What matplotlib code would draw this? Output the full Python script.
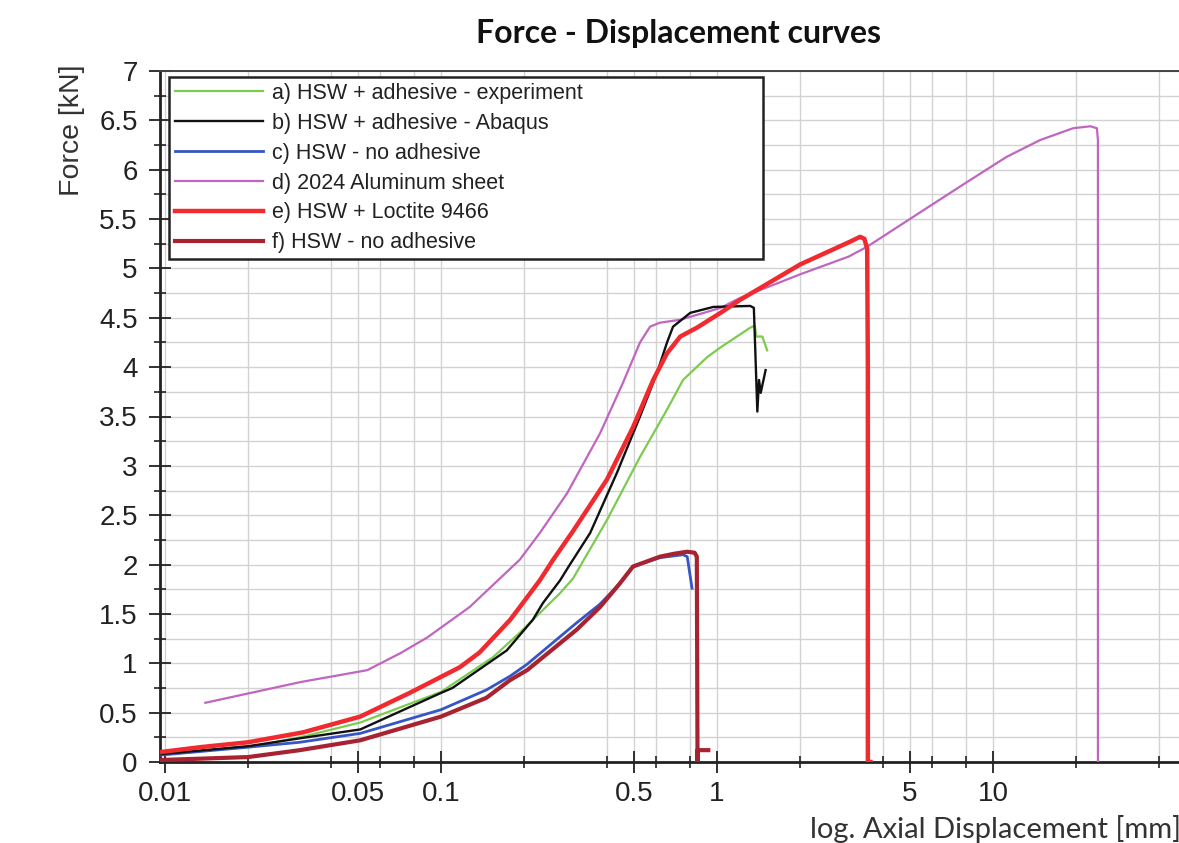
import numpy as np
import matplotlib
matplotlib.use("Agg")
import matplotlib.pyplot as plt
from matplotlib.ticker import FixedLocator, FixedFormatter, MultipleLocator, FormatStrFormatter

# a) HSW + adhesive - experiment
x_exp = [0.0096, 0.022, 0.0308, 0.051, 0.1, 0.154, 0.193, 0.27, 0.301, 0.399, 0.526,
         0.659, 0.753, 0.92, 1.03, 1.32, 1.37, 1.39, 1.46, 1.52]
y_exp = [0.07, 0.17, 0.25, 0.40, 0.71, 1.06, 1.31, 1.71, 1.86, 2.45, 3.09,
         3.57, 3.87, 4.10, 4.20, 4.40, 4.42, 4.31, 4.31, 4.17]

# b) HSW + adhesive - Abaqus
x_abq = [0.0096, 0.02, 0.0308, 0.051, 0.1, 0.11, 0.173, 0.215, 0.234, 0.27, 0.29,
         0.347, 0.434, 0.526, 0.606, 0.659, 0.693, 0.80, 0.97, 1.32, 1.36, 1.40,
         1.42, 1.44, 1.50]
y_abq = [0.08, 0.16, 0.24, 0.33, 0.70, 0.75, 1.13, 1.44, 1.61, 1.84, 1.98,
         2.32, 2.93, 3.50, 3.94, 4.25, 4.41, 4.55, 4.61, 4.62, 4.60, 3.55,
         3.87, 3.74, 3.97]

# c) HSW - no adhesive
x_noad = [0.0096, 0.02, 0.0308, 0.051, 0.1, 0.146, 0.178, 0.205, 0.31, 0.377,
          0.445, 0.496, 0.621, 0.753, 0.78, 0.812]
y_noad = [0.07, 0.15, 0.20, 0.29, 0.53, 0.73, 0.87, 0.99, 1.41, 1.60,
          1.81, 1.98, 2.07, 2.10, 2.08, 1.76]

# d) 2024 Aluminum sheet
x_al = [0.014, 0.031, 0.054, 0.071, 0.089, 0.127, 0.193, 0.228, 0.286, 0.377, 0.456,
        0.526, 0.572, 0.62, 0.736, 1.03, 1.21, 2.0, 3.0, 3.5, 5.6, 8.0, 11.2, 14.8,
        19.5, 22.5, 23.8, 24.0, 24.0]
y_al = [0.60, 0.81, 0.93, 1.10, 1.26, 1.57, 2.05, 2.32, 2.72, 3.33, 3.84,
        4.25, 4.41, 4.45, 4.48, 4.60, 4.70, 4.94, 5.12, 5.22, 5.59, 5.87, 6.13, 6.30,
        6.42, 6.44, 6.42, 6.30, 0.0]

# e) HSW + Loctite 9466
x_loc = [0.0096, 0.0134, 0.02, 0.0316, 0.051, 0.077, 0.117, 0.138, 0.178, 0.193,
         0.228, 0.255, 0.301, 0.399, 0.496, 0.587, 0.659, 0.736, 0.846, 1.03, 1.21,
         2.0, 3.03, 3.3, 3.42, 3.5, 3.52, 3.52, 3.6]
y_loc = [0.10, 0.15, 0.20, 0.30, 0.46, 0.70, 0.96, 1.11, 1.44, 1.57,
         1.84, 2.05, 2.34, 2.86, 3.39, 3.87, 4.14, 4.31, 4.40, 4.55, 4.68,
         5.04, 5.27, 5.32, 5.30, 5.20, 4.0, 0.0, 0.0]

# f) HSW - no adhesive
x_noad2 = [0.0096, 0.02, 0.0308, 0.051, 0.1, 0.146, 0.178, 0.205, 0.31, 0.377,
           0.445, 0.496, 0.621, 0.70, 0.78, 0.83, 0.845, 0.85, 0.85, 0.93]
y_noad2 = [0.02, 0.05, 0.12, 0.22, 0.46, 0.65, 0.83, 0.93, 1.34, 1.57,
           1.81, 1.98, 2.08, 2.11, 2.13, 2.12, 2.08, 0.0, 0.12, 0.12]

labels = ["a) HSW + adhesive - experiment", "b) HSW + adhesive - Abaqus",
          "c) HSW - no adhesive", "d) 2024 Aluminum sheet",
          "e) HSW + Loctite 9466", "f) HSW - no adhesive"]

x_ticks = [0.01, 0.05, 0.1, 0.5, 1, 5, 10]
x_ticklabels = ["0.01", "0.05", "0.1", "0.5", "1", "5", "10"]
x_minor = [m * d for d in (0.01, 0.1, 1, 10) for m in (2, 4, 6, 8)]

plt.rcParams["font.family"] = ["Liberation Sans", "DejaVu Sans"]

fig = plt.figure(figsize=(11.79, 8.43), dpi=100)
ax = fig.add_axes([160 / 1179, 81 / 843, 1 - 160 / 1179, (762 - 71) / 843])

ax.plot(x_exp, y_exp, color="#7ccb4e", lw=1.6, label=labels[0], zorder=3)
ax.plot(x_abq, y_abq, color="#111111", lw=1.7, label=labels[1], zorder=4)
ax.plot(x_noad, y_noad, color="#3556c4", lw=2.0, label=labels[2], zorder=3)
ax.plot(x_al, y_al, color="#c065c0", lw=1.6, label=labels[3], zorder=3)
ax.plot(x_loc, y_loc, color="#f02a2e", lw=3.2, label=labels[4], zorder=5)
ax.plot(x_noad2, y_noad2, color="#a82332", lw=3.0, label=labels[5], zorder=4)

ax.set_xscale("log")
ax.set_xlim(0.00959, 47.2)
ax.set_ylim(0, 7)

ax.xaxis.set_major_locator(FixedLocator(x_ticks))
ax.xaxis.set_major_formatter(FixedFormatter(x_ticklabels))
ax.xaxis.set_minor_locator(FixedLocator(x_minor))
ax.xaxis.set_minor_formatter(FixedFormatter([""] * len(x_minor)))
ax.yaxis.set_major_locator(MultipleLocator(0.5))
ax.yaxis.set_minor_locator(MultipleLocator(0.25))
ax.yaxis.set_major_formatter(FormatStrFormatter("%g"))

ax.tick_params(which="major", direction="inout", length=16, width=1.3,
               color="#222222", labelsize=20, labelcolor="#222222", pad=6)
ax.tick_params(which="minor", direction="inout", length=9, width=1.2, color="#222222")
ax.tick_params(axis="y", which="major", pad=8)

ax.grid(True, which="both", color="#d2d2d2", lw=1.0, zorder=0)

for s in ("left", "bottom"):
    ax.spines[s].set_linewidth(2.0)
    ax.spines[s].set_color("#222222")
ax.spines["top"].set_linewidth(1.4)
ax.spines["top"].set_color("#444444")
ax.spines["right"].set_visible(False)

leg = ax.legend(loc="upper left", bbox_to_anchor=(9 / 1019, 0.0, 594 / 1019, 685 / 691),
                mode="expand", borderaxespad=0, fontsize=15.5, handlelength=4.1,
                handletextpad=0.4, labelspacing=0.41, borderpad=0.28,
                fancybox=False, framealpha=1, edgecolor="#222222")
leg.get_frame().set_linewidth(1.8)
for t in leg.get_texts():
    t.set_color("#222222")

fig.text(678 / 1179, 1 - 33 / 843, "Force - Displacement curves", family="Lato",
         weight="bold", fontsize=23, ha="center", va="center", color="#111111")
fig.text(72 / 1179, 1 - 130 / 843, "Force [kN]", rotation=90, fontsize=20.5,
         ha="center", va="center", color="#333333")
fig.text(810 / 1179, 5 / 843, "log. Axial Displacement [mm]", family="Lato",
         fontsize=21, ha="left", va="baseline", color="#333333")

fig.savefig("out.png", dpi=100)
